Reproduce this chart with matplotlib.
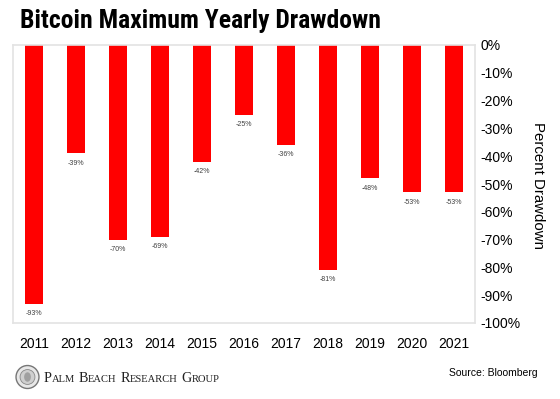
import matplotlib
matplotlib.use("Agg")
import matplotlib.pyplot as plt
from matplotlib import font_manager
from matplotlib.patches import Circle, Ellipse
from matplotlib.ticker import FixedLocator

years = ["2011", "2012", "2013", "2014", "2015", "2016", "2017", "2018", "2019", "2020", "2021"]
drawdown = [-93, -39, -70, -69, -42, -25, -36, -81, -48, -53, -53]
y_ticks = [0, -10, -20, -30, -40, -50, -60, -70, -80, -90, -100]
title = "Bitcoin Maximum Yearly Drawdown"
y_label = "Percent Drawdown"
source = "Source: Bloomberg"
brand = "Palm Beach Research Group"

names = {f.name for f in font_manager.fontManager.ttflist}
narrow = "Liberation Sans"
for cand in ["Liberation Sans Narrow", "Arial Narrow", "Roboto Condensed", "Open Sans Condensed", "Roboto"]:
    if cand in names:
        narrow = cand
        break
serif = "Liberation Serif" if "Liberation Serif" in names else "DejaVu Serif"

plt.rcParams["font.family"] = ["Liberation Sans", "DejaVu Sans"]

W, H = 560, 399
fig = plt.figure(figsize=(W / 100, H / 100), dpi=100)
fig.patch.set_facecolor("white")

ax = fig.add_axes([13 / W, 1 - 323 / H, 462 / W, 278 / H])
x = list(range(len(years)))
bars = ax.bar(x, drawdown, width=0.44, color="#ff0000", zorder=2)
for xi, v in zip(x, drawdown):
    ax.annotate(f"{v}%", (xi, v), xytext=(0, -7), textcoords="offset points",
                ha="center", va="center", fontsize=5, color="#404040")

ax.set_xlim(-0.5, len(years) - 0.5)
ax.set_ylim(-100, 0)
ax.set_xticks(x)
ax.set_xticklabels(years, fontsize=10)
ax.yaxis.set_major_locator(FixedLocator(y_ticks))
ax.set_yticklabels([f"{t}%" for t in y_ticks], fontsize=10)
ax.yaxis.tick_right()
ax.tick_params(axis="x", length=0, pad=10)
ax.tick_params(axis="y", length=0, pad=4)
for s in ax.spines.values():
    s.set_color("#e3e3e3")
    s.set_linewidth(1.2)

fig.text(538 / W, 1 - 186 / H, y_label, rotation=270, ha="center", va="center",
         fontsize=10.8)

fig.text(538 / W, 1 - 373 / H, source, ha="right", va="center", fontsize=7.5)

# logo emblem
lax = fig.add_axes([14 / W, 1 - 392 / H, 27 / W, 30 / H])
lax.set_xlim(-1, 1)
lax.set_ylim(-1.1, 1.1)
lax.set_aspect("equal")
lax.axis("off")
lax.add_patch(Circle((0, 0), 0.85, facecolor="#e8e8e8", edgecolor="#777777", lw=1.0))
lax.add_patch(Circle((0, 0), 0.55, facecolor="#cfcfcf", edgecolor="#888888", lw=0.6))
lax.add_patch(Ellipse((0, 0), 0.5, 0.7, facecolor="#a0a0a0", edgecolor="none"))

fig.canvas.draw()
renderer = fig.canvas.get_renderer()

# title: fit to the reference width
size = 17.5
tt = fig.text(20 / W, 1 - 28 / H, title, ha="left", va="baseline", fontsize=size,
              fontweight="bold", fontfamily=narrow)
for _ in range(3):
    w = tt.get_window_extent(renderer).width
    size = size * 360 / w
    tt.set_fontsize(size)

# brand in small caps
xpos = 44
base_y = 1 - 382 / H
for wi, word in enumerate(brand.split(" ")):
    if wi > 0:
        xpos += 3.5
    pieces = [(word[0].upper(), 10.2), (word[1:].upper(), 7.6)]
    for txt, sz in pieces:
        t = fig.text(xpos / W, base_y, txt, ha="left", va="baseline", fontsize=sz,
                     fontfamily=serif, color="#222222")
        bb = t.get_window_extent(renderer)
        xpos += bb.width

fig.savefig("out.png", dpi=100, facecolor="white")
